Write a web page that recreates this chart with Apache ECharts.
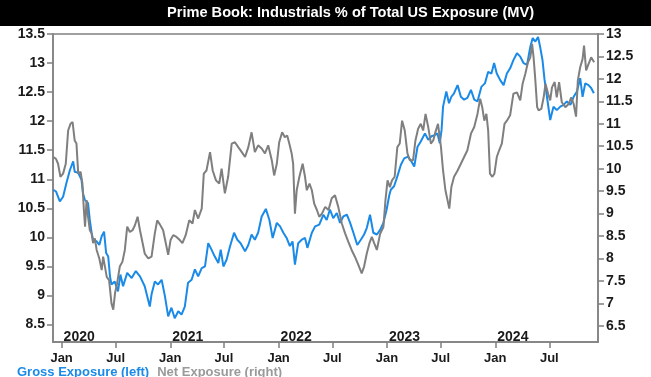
<!DOCTYPE html>
<html>
<head>
<meta charset="utf-8">
<script src="https://cdn.jsdelivr.net/npm/echarts@6/dist/echarts.min.js"></script>
<style>
  html, body { margin: 0; padding: 0; background: #fff; }
  #chart { width: 651px; height: 377px; }
</style>
</head>
<body>
<div id="chart"></div>
<script>
// Gross exposure, left axis (%)
var grossDates = ['2019-12-04','2019-12-13','2019-12-26','2020-01-06','2020-01-17','2020-01-29','2020-02-09','2020-02-14','2020-02-26','2020-03-08',
  '2020-03-13','2020-03-19','2020-03-30','2020-04-05','2020-04-11','2020-04-16','2020-04-28','2020-05-07','2020-05-15','2020-05-23',
  '2020-05-30','2020-06-06','2020-06-12','2020-06-17','2020-06-28','2020-07-09','2020-07-17','2020-07-26','2020-08-09','2020-08-24',
  '2020-09-07','2020-09-21','2020-10-07','2020-10-24','2020-10-30','2020-11-10','2020-11-21','2020-12-03','2020-12-14','2020-12-25',
  '2021-01-05','2021-01-16','2021-01-28','2021-02-08','2021-02-19','2021-03-02','2021-03-14','2021-03-25','2021-04-05','2021-04-17',
  '2021-04-28','2021-05-09','2021-05-20','2021-05-31','2021-06-12','2021-06-20','2021-06-29','2021-07-10','2021-07-21','2021-08-04',
  '2021-08-15','2021-08-26','2021-09-10','2021-09-21','2021-10-02','2021-10-13','2021-10-24','2021-11-05','2021-11-19','2021-12-01',
  '2021-12-12','2021-12-26','2022-01-06','2022-01-17','2022-01-28','2022-02-08','2022-02-17','2022-02-25','2022-03-08','2022-03-20',
  '2022-03-31','2022-04-08','2022-04-23','2022-05-04','2022-05-18','2022-06-01','2022-06-12','2022-06-23','2022-07-04','2022-07-16',
  '2022-07-27','2022-08-07','2022-08-19','2022-08-30','2022-09-10','2022-09-23','2022-10-05','2022-10-16','2022-10-25','2022-11-05',
  '2022-11-16','2022-11-28','2022-12-09','2022-12-20','2022-12-31','2023-01-09','2023-01-14','2023-01-25','2023-02-05','2023-02-17',
  '2023-02-28','2023-03-13','2023-03-24','2023-04-03','2023-04-14','2023-04-25','2023-05-09','2023-05-20','2023-05-31','2023-06-11',
  '2023-06-20','2023-06-28','2023-07-04','2023-07-09','2023-07-20','2023-07-29','2023-08-06','2023-08-15','2023-08-27','2023-09-07',
  '2023-09-18','2023-09-29','2023-10-11','2023-10-22','2023-11-02','2023-11-15','2023-11-27','2023-12-08','2023-12-19','2023-12-28',
  '2024-01-06','2024-01-17','2024-01-29','2024-02-09','2024-02-20','2024-03-02','2024-03-14','2024-03-25','2024-04-05','2024-04-17',
  '2024-04-28','2024-05-06','2024-05-15','2024-05-24','2024-05-31','2024-06-08','2024-06-15','2024-06-23','2024-07-04','2024-07-15',
  '2024-07-26','2024-08-07','2024-08-18','2024-08-29','2024-09-10','2024-09-21','2024-10-02','2024-10-13','2024-10-21','2024-10-30',
  '2024-11-10','2024-11-19','2024-11-28'];
var grossValues = [10.82,10.79,10.62,10.70,10.93,11.16,11.31,11.13,11.11,10.99,
  10.76,10.65,10.59,10.30,10.08,9.96,9.93,9.87,10.02,10.10,
  9.73,9.67,9.33,9.19,9.24,9.07,9.36,9.16,9.39,9.30,
  9.42,9.33,9.16,8.81,9.02,9.24,9.19,9.27,8.99,8.64,
  8.79,8.61,8.73,8.67,8.81,9.22,9.27,9.45,9.33,9.47,
  9.50,9.90,9.79,9.67,9.56,9.79,9.50,9.62,9.84,10.08,
  9.96,9.90,9.76,9.87,10.05,9.96,10.08,10.36,10.49,10.30,
  9.99,10.25,10.19,10.08,9.99,9.85,9.93,9.53,9.90,9.96,
  9.99,9.82,10.08,10.19,10.22,10.39,10.30,10.48,10.33,10.42,
  10.25,10.36,10.39,10.25,10.08,9.87,9.96,10.05,10.16,10.39,
  10.08,10.05,10.13,10.25,10.48,10.73,10.82,10.88,11.05,11.25,
  11.36,11.39,11.31,11.22,11.56,11.65,11.79,11.68,11.74,11.76,
  11.79,11.62,11.85,12.25,12.51,12.31,12.42,12.48,12.62,12.42,
  12.37,12.40,12.54,12.37,12.34,12.59,12.65,12.85,12.82,13.00,
  12.82,12.71,12.62,12.82,12.91,13.05,13.17,13.11,13.00,12.97,
  13.28,13.43,13.37,13.45,13.28,13.05,12.71,12.42,12.02,12.25,
  12.19,12.25,12.28,12.34,12.28,12.42,12.51,12.74,12.42,12.65,
  12.62,12.57,12.48];

// Net exposure, right axis (%)
var netDates = ['2019-12-04','2019-12-13','2019-12-20','2019-12-28','2020-01-06','2020-01-15','2020-01-23','2020-01-31','2020-02-07','2020-02-14',
  '2020-02-20','2020-02-26','2020-03-05','2020-03-11','2020-03-16','2020-03-20','2020-03-25','2020-03-30','2020-04-05','2020-04-11',
  '2020-04-16','2020-04-22','2020-04-28','2020-05-07','2020-05-15','2020-05-20','2020-05-26','2020-06-01','2020-06-09','2020-06-17',
  '2020-06-23','2020-06-29','2020-07-06','2020-07-15','2020-07-24','2020-08-01','2020-08-09','2020-08-18','2020-08-27','2020-09-04',
  '2020-09-13','2020-09-21','2020-09-30','2020-10-07','2020-10-19','2020-10-30','2020-11-10','2020-11-18','2020-11-27','2020-12-08',
  '2020-12-17','2020-12-25','2021-01-02','2021-01-11','2021-01-22','2021-02-02','2021-02-11','2021-02-22','2021-03-06','2021-03-17',
  '2021-03-25','2021-04-05','2021-04-17','2021-04-24','2021-05-03','2021-05-15','2021-05-24','2021-06-04','2021-06-15','2021-06-23',
  '2021-07-04','2021-07-15','2021-07-27','2021-08-07','2021-08-18','2021-08-30','2021-09-10','2021-09-21','2021-10-02','2021-10-13',
  '2021-10-24','2021-11-05','2021-11-16','2021-11-27','2021-12-09','2021-12-17','2021-12-26','2022-01-03','2022-01-13','2022-01-22',
  '2022-01-30','2022-02-06','2022-02-14','2022-02-19','2022-02-25','2022-03-03','2022-03-12','2022-03-23','2022-03-31','2022-04-06',
  '2022-04-15','2022-04-23','2022-05-01','2022-05-10','2022-05-18','2022-05-27','2022-06-07','2022-06-18','2022-06-29','2022-07-10',
  '2022-07-21','2022-08-02','2022-08-13','2022-08-24','2022-09-04','2022-09-15','2022-09-27','2022-10-08','2022-10-16','2022-10-25',
  '2022-11-03','2022-11-11','2022-11-19','2022-11-28','2022-12-09','2022-12-20','2022-12-27','2023-01-03','2023-01-11','2023-01-18',
  '2023-01-27','2023-02-05','2023-02-13','2023-02-21','2023-03-02','2023-03-11','2023-03-19','2023-03-30','2023-04-07','2023-04-16',
  '2023-04-25','2023-05-03','2023-05-11','2023-05-20','2023-05-29','2023-06-06','2023-06-13','2023-06-22','2023-07-02','2023-07-09',
  '2023-07-17','2023-07-24','2023-07-30','2023-08-06','2023-08-15','2023-08-27','2023-09-07','2023-09-18','2023-09-29','2023-10-11',
  '2023-10-22','2023-11-02','2023-11-11','2023-11-18','2023-11-25','2023-12-02','2023-12-08','2023-12-14','2023-12-22','2023-12-29',
  '2024-01-06','2024-01-14','2024-01-23','2024-02-01','2024-02-09','2024-02-20','2024-03-02','2024-03-14','2024-03-25','2024-04-02',
  '2024-04-11','2024-04-20','2024-04-28','2024-05-04','2024-05-09','2024-05-15','2024-05-21','2024-05-26','2024-06-04','2024-06-12',
  '2024-06-18','2024-06-27','2024-07-04','2024-07-10','2024-07-19','2024-07-26','2024-08-03','2024-08-12','2024-08-24','2024-09-04',
  '2024-09-13','2024-09-21','2024-09-29','2024-10-05','2024-10-13','2024-10-21','2024-10-26','2024-11-02','2024-11-10','2024-11-19',
  '2024-11-29'];
var netValues = [10.26,10.22,10.11,9.82,9.89,10.11,10.85,11.00,11.04,10.63,
  10.56,9.89,9.93,9.67,9.08,8.71,9.30,8.93,8.63,8.56,
  8.34,8.45,8.19,8.00,7.74,8.04,7.82,7.59,7.52,7.00,
  6.86,7.23,7.45,7.82,7.93,8.19,8.71,8.59,8.63,8.74,
  8.93,8.63,8.34,8.11,8.00,8.04,8.56,8.85,8.76,8.63,
  8.34,8.08,8.41,8.52,8.48,8.41,8.34,8.52,8.85,8.78,
  9.08,8.89,9.11,9.89,9.96,10.37,9.96,9.74,9.67,10.00,
  9.45,9.82,10.56,10.59,10.48,10.37,10.26,10.48,10.81,10.37,
  10.52,10.45,10.34,10.52,10.19,9.85,10.11,10.59,10.81,10.70,
  10.74,10.56,10.34,10.11,9.00,9.52,9.82,10.11,9.82,9.52,
  9.67,9.52,9.22,9.08,8.93,9.00,9.15,9.08,9.34,9.41,
  9.15,8.78,8.56,8.37,8.19,8.04,7.85,7.67,7.82,8.11,
  8.34,8.48,8.34,8.19,8.55,8.70,9.30,9.74,9.59,9.74,
  9.82,10.48,10.56,11.07,10.85,10.34,10.19,10.19,10.63,10.89,
  11.00,10.85,11.22,10.93,10.56,10.63,10.81,11.00,10.48,9.96,
  9.52,9.30,9.11,9.59,9.82,9.96,10.11,10.26,10.41,10.78,
  10.93,11.22,11.56,11.37,11.07,11.22,10.85,9.89,9.82,9.89,
  10.26,10.41,10.56,11.00,11.07,11.19,11.67,11.70,11.52,11.89,
  12.11,12.37,12.48,12.78,12.48,11.96,11.37,11.30,11.33,11.59,
  11.89,11.67,11.52,11.81,11.93,11.59,11.93,11.48,11.37,11.44,
  11.59,11.44,11.16,11.96,12.26,12.44,12.74,12.19,12.33,12.48,
  12.37];

var leftTicks = [8.5, 9, 9.5, 10, 10.5, 11, 11.5, 12, 12.5, 13, 13.5];
var rightTicks = [6.5, 7, 7.5, 8, 8.5, 9, 9.5, 10, 10.5, 11, 11.5, 12, 12.5, 13];
var monthTicks = ['2020-01-01','2020-07-01','2021-01-01','2021-07-01','2022-01-01','2022-07-01','2023-01-01','2023-07-01','2024-01-01','2024-07-01'];
var monthLabels = ['Jan','Jul','Jan','Jul','Jan','Jul','Jan','Jul','Jan','Jul'];
var yearTicks = ['2020-01-01','2021-01-01','2022-01-01','2023-01-01','2024-01-01'];
var yearLabels = ['2020','2021','2022','2023','2024'];
var xStart = '2019-12-03', xEnd = '2024-12-12';

function ts(d) { return Date.parse(d); }

function pairs(dates, values) {
    var out = [];
    for (var i = 0; i < Math.min(dates.length, values.length); i++) {
        out.push([ts(dates[i]), values[i]]);
    }
    return out;
}

function labelFor(ticks, labels) {
    var stamps = ticks.map(ts);
    return function (v) {
        var k = stamps.indexOf(v);
        return k >= 0 ? labels[k] : '';
    };
}

var frame = '#808080';
var labelFont = { fontFamily: 'Liberation Sans', fontWeight: 'bold', color: '#1a1a1a' };

var myChart = echarts.init(document.getElementById('chart'));
myChart.setOption({
    animation: false,
    backgroundColor: '#fff',
    graphic: [{
        type: 'rect',
        left: 0, top: 0,
        shape: { width: 651, height: 26 },
        style: { fill: '#000' }
    }],
    title: {
        text: 'Prime Book: Industrials % of Total US Exposure (MV)',
        left: 167, top: 5, padding: 0,
        textStyle: { color: '#fff', fontSize: 14.6, fontWeight: 'bold', fontFamily: 'Liberation Sans' }
    },
    legend: {
        left: 17, top: 366, padding: 0,
        icon: 'none', itemWidth: 0, itemHeight: 0, itemGap: 8,
        textStyle: { fontSize: 13, fontWeight: 'bold', fontFamily: 'Liberation Sans', padding: [0, 0, 0, -5] },
        data: [
            { name: 'Gross Exposure (left)', textStyle: { color: '#1a8ae8' } },
            { name: 'Net Exposure (right)', textStyle: { color: '#9a9a9a' } }
        ]
    },
    grid: {
        left: 53, right: 53, top: 34, bottom: 35,
        show: true, borderColor: frame, borderWidth: 1.5
    },
    xAxis: [{
        type: 'value',
        min: ts(xStart), max: ts(xEnd),
        splitLine: { show: false },
        axisLine: { lineStyle: { color: frame, width: 1.5 } },
        axisTick: { customValues: monthTicks.map(ts), length: 6, lineStyle: { color: frame, width: 1.5 } },
        axisLabel: Object.assign({
            customValues: monthTicks.map(ts), fontSize: 13, margin: 10,
            formatter: labelFor(monthTicks, monthLabels)
        }, labelFont)
    }, {
        type: 'value', position: 'top', offset: -308,
        min: ts(xStart), max: ts(xEnd),
        splitLine: { show: false },
        axisLine: { show: false },
        axisTick: { show: false },
        axisLabel: Object.assign({
            customValues: yearTicks.map(ts), fontSize: 14, margin: -2, align: 'left',
            padding: [0, 0, 0, 2],
            formatter: labelFor(yearTicks, yearLabels)
        }, labelFont)
    }],
    yAxis: [{
        type: 'value', position: 'left',
        min: 8.2, max: 13.5,
        splitLine: { show: false },
        axisLine: { show: true, lineStyle: { color: frame, width: 1.5 } },
        axisTick: { show: true, customValues: leftTicks, length: 6, lineStyle: { color: frame, width: 1.5 } },
        axisLabel: Object.assign({ customValues: leftTicks, fontSize: 14, margin: 8 }, labelFont)
    }, {
        type: 'value', position: 'right',
        min: 6.14, max: 13,
        splitLine: { show: false },
        axisLine: { show: true, lineStyle: { color: frame, width: 1.5 } },
        axisTick: { show: true, customValues: rightTicks, length: 6, lineStyle: { color: frame, width: 1.5 } },
        axisLabel: Object.assign({ customValues: rightTicks, fontSize: 14, margin: 8 }, labelFont)
    }],
    series: [{
        name: 'Gross Exposure (left)',
        type: 'line', yAxisIndex: 0, xAxisIndex: 0,
        showSymbol: false,
        lineStyle: { color: '#1a8ae8', width: 2 },
        itemStyle: { color: '#1a8ae8' },
        data: pairs(grossDates, grossValues)
    }, {
        name: 'Net Exposure (right)',
        type: 'line', yAxisIndex: 1, xAxisIndex: 0,
        showSymbol: false,
        lineStyle: { color: '#7f7f7f', width: 2 },
        itemStyle: { color: '#7f7f7f' },
        data: pairs(netDates, netValues)
    }]
});
</script>
</body>
</html>
